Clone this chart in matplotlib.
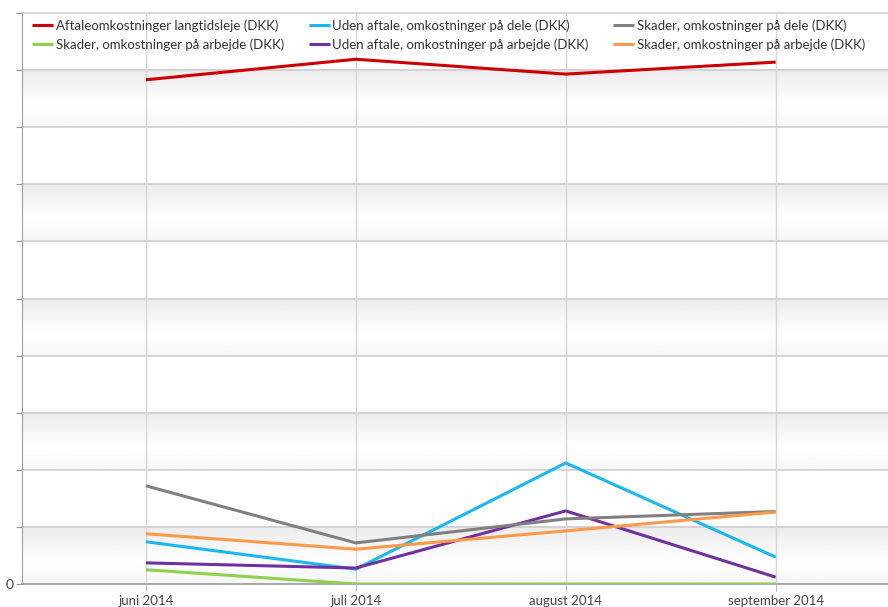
import matplotlib
matplotlib.use('Agg')
import matplotlib.pyplot as plt
import numpy as np

plt.rcParams['font.family'] = ['Lato', 'DejaVu Sans']

months = ['juni 2014', 'juli 2014', 'august 2014', 'september 2014']

aftale_langtid = [8.83, 9.19, 8.93, 9.14]
skader_arbejde_green = [0.25, 0.0, 0.0, 0.0]
uden_dele = [0.74, 0.26, 2.12, 0.47]
uden_arbejde = [0.37, 0.28, 1.28, 0.12]
skader_dele = [1.72, 0.72, 1.14, 1.27]
skader_arbejde = [0.88, 0.61, 0.93, 1.26]

series = [
    ('Aftaleomkostninger langtidsleje (DKK)', aftale_langtid, '#cc0000'),
    ('Skader, omkostninger på arbejde (DKK)', skader_arbejde_green, '#8fd14f'),
    ('Uden aftale, omkostninger på dele (DKK)', uden_dele, '#1ab8ef'),
    ('Uden aftale, omkostninger på arbejde (DKK)', uden_arbejde, '#7030a0'),
    ('Skader, omkostninger på dele (DKK)', skader_dele, '#808080'),
    ('Skader, omkostninger på arbejde (DKK)', skader_arbejde, '#fa9a4a'),
]

W, H = 888, 607
fig = plt.figure(figsize=(W / 100, H / 100), dpi=100)
ax = fig.add_axes([22 / W, (H - 584) / H, 1 - 22 / W, (584 - 13) / H])

x = np.arange(len(months))
ax.set_xlim(-0.59, 3.535)
ax.set_ylim(0, 10)

# shaded gradient bands on every other interval
grad = np.concatenate([np.linspace(0.92, 1.0, 60), np.linspace(1.0, 0.965, 40)])
img = np.tile(grad[:, None], (1, 2))
for lo in range(0, 10, 2):
    ax.imshow(img, cmap='gray', vmin=0, vmax=1, aspect='auto',
              extent=(-0.59, 3.535, lo, lo + 1), origin='upper', zorder=0)

for y in range(1, 11):
    ax.axhline(y, color='#cfcfcf', lw=1.2, zorder=1, clip_on=False)
for xi in x:
    ax.axvline(xi, color='#d6d6d6', lw=1.0, zorder=1)

handles = []
for label, vals, color in series:
    h, = ax.plot(x, vals, color=color, lw=2.2, label=label, zorder=3,
                 solid_capstyle='butt')
    handles.append(h)

ax.set_yticks(range(0, 11))
ax.set_yticklabels(['0'] + [''] * 10)
ax.set_xticks(x)
ax.set_xticklabels(months)
ax.tick_params(axis='y', length=4, color='#999999', labelsize=10, labelcolor='#444444', pad=2)
ax.tick_params(axis='x', length=5, color='#bbbbbb', labelsize=9.5, labelcolor='#444444', pad=3)

for s in ['top', 'right']:
    ax.spines[s].set_visible(False)
ax.spines['left'].set_color('#a0a0a0')
ax.spines['bottom'].set_color('#999999')
ax.spines['bottom'].set_linewidth(1.2)

leg = ax.legend(handles=handles, ncol=3, loc='upper left',
                bbox_to_anchor=(32 / W, 1 - 19.5 / H), bbox_transform=fig.transFigure,
                frameon=False, fontsize=9.5, handlelength=1.6, handletextpad=0.2,
                columnspacing=1.86, labelspacing=0.45, borderaxespad=0, borderpad=0)
for t in leg.get_texts():
    t.set_color('#333333')

fig.savefig('out.png', dpi=100)
